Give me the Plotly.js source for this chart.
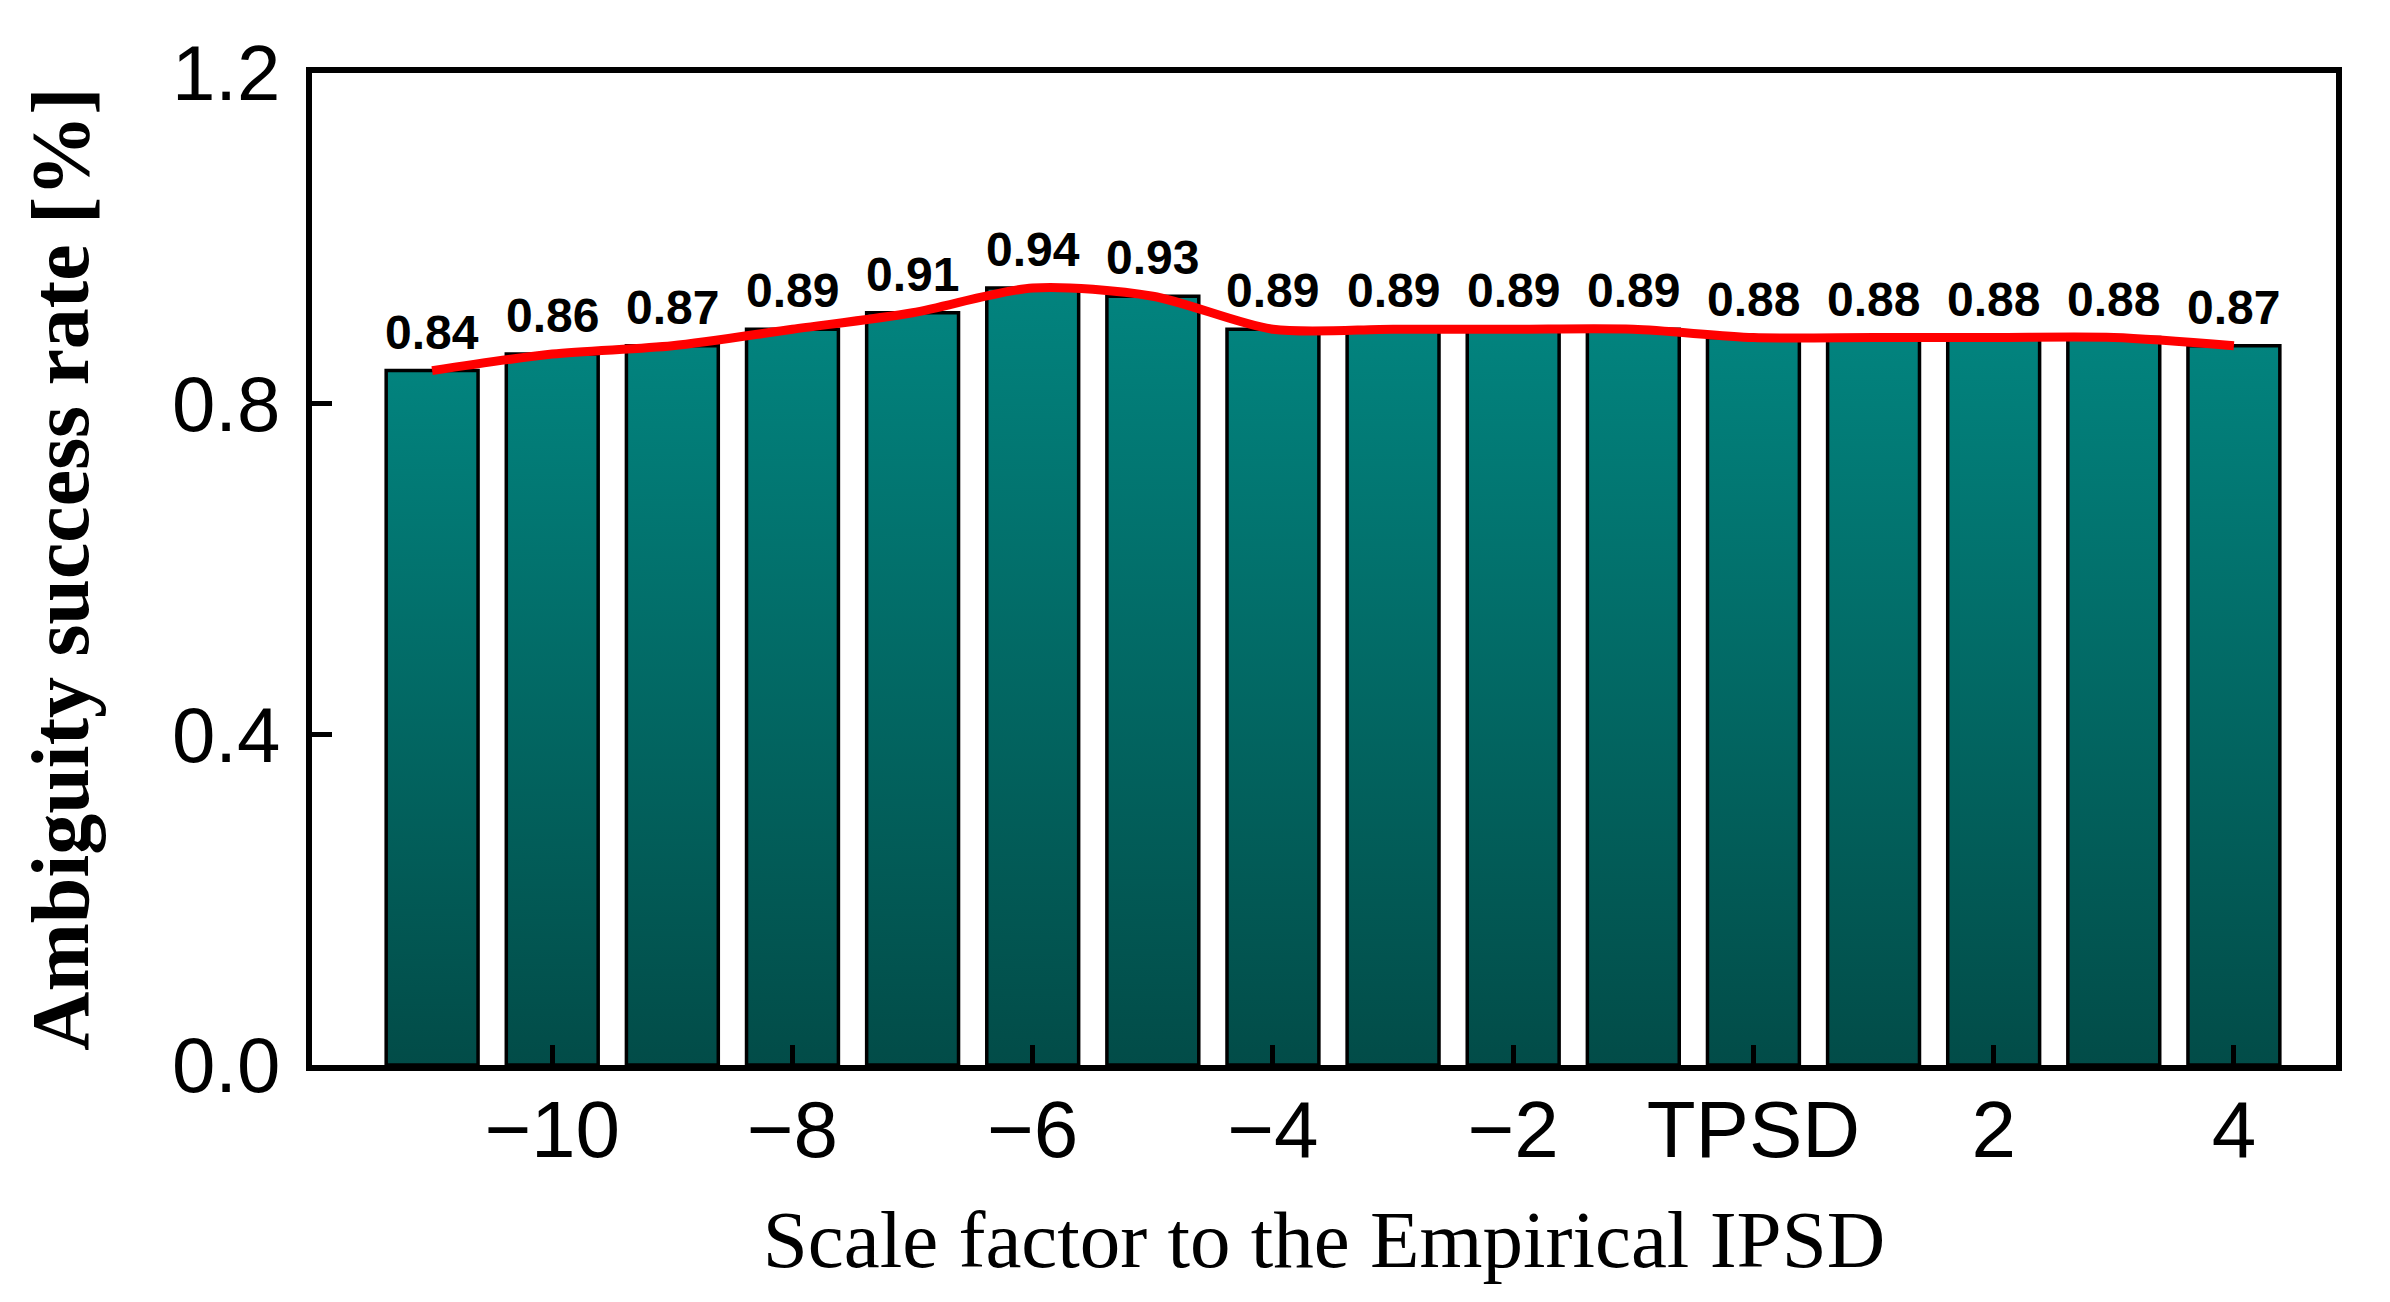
<!DOCTYPE html>
<html>
<head>
<meta charset="utf-8">
<script src="https://cdn.plot.ly/plotly-3.0.1.min.js"></script>
<style>
  html, body { margin: 0; padding: 0; background: #ffffff; }
  #chart { width: 2390px; height: 1302px; }
</style>
</head>
<body>
<div id="chart"></div>
<script>
// ---- data ----
const scaleFactors = [-11, -10, -9, -8, -7, -6, -5, -4, -3, -2, -1, 0, 1, 2, 3, 4];
const successRate  = [0.84, 0.86, 0.87, 0.89, 0.91, 0.94, 0.93, 0.89, 0.89, 0.89, 0.89, 0.88, 0.88, 0.88, 0.88, 0.87];
const xTickVals  = [-10, -8, -6, -4, -2, 0, 2, 4];
const xTickText  = ['\u221210', '\u22128', '\u22126', '\u22124', '\u22122', 'TPSD', '2', '4'];
const yTickVals  = [0, 0.4, 0.8, 1.2];
const barLabels  = successRate.map(v => v.toFixed(2));

const barTrace = {
  type: 'bar',
  x: scaleFactors,
  y: successRate,
  marker: { color: '#04706b', line: { color: '#000000', width: 3.5 } },
  hoverinfo: 'x+y',
  showlegend: false
};

const lineTrace = {
  type: 'scatter',
  mode: 'lines',
  x: scaleFactors,
  y: successRate,
  line: { color: '#ff0000', width: 9, shape: 'spline', smoothing: 0.8 },
  showlegend: false,
  cliponaxis: false
};

const labelAnnotations = scaleFactors.map((xv, i) => ({
  x: xv,
  y: successRate[i],
  xref: 'x',
  yref: 'y',
  text: barLabels[i],
  showarrow: false,
  xanchor: 'center',
  yanchor: 'bottom',
  yshift: 10,
  font: { family: 'Liberation Sans, Arial, sans-serif', size: 48, color: '#000000', weight: 'bold' }
}));

const layout = {
  width: 2390,
  height: 1302,
  paper_bgcolor: '#ffffff',
  plot_bgcolor: '#ffffff',
  margin: { l: 312, r: 54, t: 73, b: 237 },
  bargap: 0.235,
  annotations: labelAnnotations,
  xaxis: {
    range: [-12.0, 4.85],
    tickmode: 'array',
    tickvals: xTickVals,
    ticktext: xTickText,
    ticks: 'inside',
    ticklen: 20,
    tickwidth: 5,
    tickcolor: '#000000',
    showline: true,
    linecolor: '#000000',
    linewidth: 6,
    mirror: true,
    showgrid: false,
    zeroline: false,
    layer: 'above traces',
    ticklabelstandoff: -10,
    tickfont: { family: 'Liberation Sans, Arial, sans-serif', size: 80, color: '#000000' },
    title: {
      text: 'Scale factor to the Empirical IPSD',
      font: { family: 'Liberation Serif, Times New Roman, serif', size: 81, color: '#000000' },
      standoff: 39
    }
  },
  yaxis: {
    range: [0, 1.2],
    tickmode: 'array',
    tickvals: yTickVals,
    tickformat: '.1f',
    ticks: 'inside',
    ticklen: 20,
    tickwidth: 5,
    tickcolor: '#000000',
    showline: true,
    linecolor: '#000000',
    linewidth: 6,
    mirror: true,
    showgrid: false,
    zeroline: false,
    layer: 'above traces',
    ticklabelstandoff: 10,
    tickfont: { family: 'Liberation Sans, Arial, sans-serif', size: 78, color: '#000000' },
    title: {
      text: 'Ambiguity success rate [%]',
      font: { family: 'Liberation Serif, Times New Roman, serif', size: 82, color: '#000000', weight: 'bold' },
      standoff: 58
    }
  }
};

Plotly.newPlot('chart', [barTrace, lineTrace], layout, { displayModeBar: false, staticPlot: true }).then(gd => {
  // vertical gradient fill for the bars (style only)
  const svg = gd.querySelector('svg.main-svg');
  let defs = svg.querySelector('defs');
  if (!defs) { defs = document.createElementNS('http://www.w3.org/2000/svg', 'defs'); svg.insertBefore(defs, svg.firstChild); }
  const grad = document.createElementNS('http://www.w3.org/2000/svg', 'linearGradient');
  grad.setAttribute('id', 'barGrad');
  grad.setAttribute('x1', '0'); grad.setAttribute('y1', '0');
  grad.setAttribute('x2', '0'); grad.setAttribute('y2', '1');
  [['0', '#02837e'], ['1', '#024c48']].forEach(([off, col]) => {
    const s = document.createElementNS('http://www.w3.org/2000/svg', 'stop');
    s.setAttribute('offset', off);
    s.setAttribute('stop-color', col);
    grad.appendChild(s);
  });
  defs.appendChild(grad);
  gd.querySelectorAll('.barlayer .point path').forEach(p => {
    p.style.fill = 'url(#barGrad)';
  });
});
</script>
</body>
</html>
